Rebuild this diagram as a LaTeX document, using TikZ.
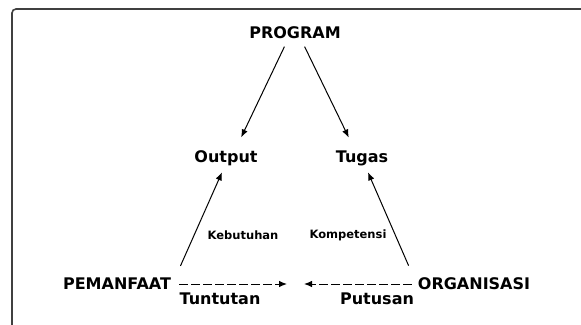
\documentclass[tikz,border=0pt]{standalone}
\usepackage{fontspec}
\setmainfont{DejaVu Sans}
\usetikzlibrary{arrows.meta}

\begin{document}
\begin{tikzpicture}[x=1pt, y=-1pt,
    lbl/.style={font=\bfseries\fontsize{16}{19}\selectfont, inner sep=2pt},
    sublbl/.style={font=\bfseries\fontsize{11.5}{14}\selectfont, inner sep=1pt},
    arr/.style={-{Latex[length=8pt,width=6.5pt]}, line width=1pt},
    darr/.style={arr, dash pattern=on 9pt off 3pt}]
    \useasboundingbox (0,0) rectangle (581,324);
    \draw[black!75, line width=1.6pt, rounded corners=4pt] (12,330) -- (12,9) -- (590,9);

    \node[lbl] (program) at (295,33) {PROGRAM};
    \node[lbl] (output) at (226,158) {Output};
    \node[lbl] (tugas) at (362,158) {Tugas};
    \node[lbl] (pemanfaat) at (117,284) {PEMANFAAT};
    \node[lbl] (organisasi) at (474,284) {ORGANISASI};
    \node[lbl] (tuntutan) at (220,299) {Tuntutan};
    \node[lbl] (putusan) at (377,299) {Putusan};
    \node[sublbl] (kebutuhan) at (243,235) {Kebutuhan};
    \node[sublbl] (kompetensi) at (348,235) {Kompetensi};
    \coordinate (tengah) at (295,284);

    \draw[arr, shorten <=6pt, shorten >=12pt] ([xshift=-8pt]program.south) -- ([xshift=10pt]output.north);
    \draw[arr, shorten <=6pt, shorten >=12pt] ([xshift=7pt]program.south) -- ([xshift=-8pt]tugas.north);
    \draw[arr, shorten <=11pt, shorten >=5pt] ([xshift=59pt]pemanfaat.north) -- ([xshift=-2pt]output.south);
    \draw[arr, shorten <=11pt, shorten >=5pt] ([xshift=-61pt]organisasi.north) -- ([xshift=4pt]tugas.south);
    \draw[darr, shorten <=6pt] (pemanfaat.east) -- ([xshift=-8pt]tengah);
    \draw[darr, shorten <=4pt] (organisasi.west) -- ([xshift=9pt]tengah);
\end{tikzpicture}
\end{document}
